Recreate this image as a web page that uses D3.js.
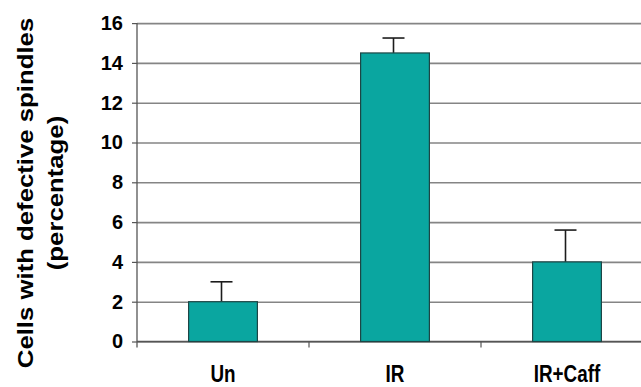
<!DOCTYPE html>
<html>
<head>
<meta charset="utf-8">
<script src="https://cdn.jsdelivr.net/npm/d3@7/dist/d3.min.js"></script>
<style>
  html, body { margin: 0; padding: 0; background: #fff; }
  svg { display: block; }
  text { font-family: "Liberation Sans", Arial, sans-serif; font-weight: bold; fill: #000; }
</style>
</head>
<body>
<svg id="chart" width="641" height="387"></svg>
<script>
// Data
const categories = ["Un", "IR", "IR+Caff"];
const values = [2.0, 14.5, 4.0];
const errors = [1.0, 0.75, 1.6];
const yTicks = [0, 2, 4, 6, 8, 10, 12, 14, 16];
const yTitleLines = ["Cells with defective spindles", "(percentage)"];

const W = 641, H = 387;
const margin = { left: 137, top: 23.1, bottom: 45.5 };
const plotRight = 653;          // plot area runs past the window edge
const y0 = H - margin.bottom;   // baseline

const svg = d3.select("#chart");

const x = d3.scaleBand()
  .domain(categories)
  .range([margin.left, plotRight])
  .paddingInner(0.6)
  .paddingOuter(0.3);

const y = d3.scaleLinear()
  .domain([0, 16])
  .range([y0, margin.top]);

// Horizontal gridlines
const grid = svg.append("g")
  .attr("transform", `translate(${margin.left},0)`)
  .call(d3.axisLeft(y).tickValues(yTicks).tickSize(-(plotRight - margin.left)).tickFormat(""));
grid.select(".domain").remove();
grid.selectAll(".tick line").attr("stroke", "#858585").attr("stroke-width", 1.6);

// Y axis with outward ticks and labels
const yAxis = svg.append("g")
  .attr("transform", `translate(${margin.left},0)`)
  .call(d3.axisLeft(y).tickValues(yTicks).tickSize(5).tickPadding(9).tickSizeOuter(0));
yAxis.select(".domain").remove();
yAxis.selectAll(".tick line").attr("stroke", "#555").attr("stroke-width", 1.2);
yAxis.selectAll(".tick text")
  .style("font-size", "20px")
  .attr("fill", "#000");

// Y axis line (extends a little below the baseline)
svg.append("line")
  .attr("x1", margin.left).attr("x2", margin.left)
  .attr("y1", y(16)).attr("y2", y0 + 6)
  .attr("stroke", "#555").attr("stroke-width", 1.3);

// Baseline
svg.append("line")
  .attr("x1", margin.left).attr("x2", plotRight)
  .attr("y1", y0).attr("y2", y0)
  .attr("stroke", "#555").attr("stroke-width", 1.6);

// Category separator ticks below the baseline
const step = x.step();
const separators = categories.slice(0, -1).map(c => x(c) + x.bandwidth() + step * x.paddingInner() / 2);
svg.selectAll("line.sep")
  .data(separators)
  .join("line")
  .attr("class", "sep")
  .attr("x1", d => d).attr("x2", d => d)
  .attr("y1", y0).attr("y2", y0 + 6)
  .attr("stroke", "#555").attr("stroke-width", 1.2);

// Error bars (upper whisker only)
const capW = 22;
const eb = svg.append("g");
categories.forEach((c, i) => {
  const cx = x(c) + x.bandwidth() / 2 - 1.5;
  eb.append("line")
    .attr("x1", cx).attr("x2", cx)
    .attr("y1", y(values[i])).attr("y2", y(values[i] + errors[i]))
    .attr("stroke", "#1c1c1c").attr("stroke-width", 1.6);
  eb.append("line")
    .attr("x1", cx - capW / 2).attr("x2", cx + capW / 2)
    .attr("y1", y(values[i] + errors[i])).attr("y2", y(values[i] + errors[i]))
    .attr("stroke", "#1c1c1c").attr("stroke-width", 1.6);
});

// Bars
svg.selectAll("rect.bar")
  .data(categories)
  .join("rect")
  .attr("class", "bar")
  .attr("x", d => x(d))
  .attr("width", x.bandwidth())
  .attr("y", (d, i) => y(values[i]))
  .attr("height", (d, i) => y0 - y(values[i]))
  .attr("fill", "#0aa6a0")
  .attr("stroke", "#1d4545")
  .attr("stroke-width", 1.2);

// Category labels
svg.selectAll("text.cat")
  .data(categories)
  .join("text")
  .attr("class", "cat")
  .attr("text-anchor", "middle")
  .attr("transform", d => `translate(${x(d) + x.bandwidth() / 2},${y0 + 40}) scale(0.82,1)`)
  .style("font-size", "23px")
  .text(d => d);

// Y axis title, two rotated lines
const titleCy = 193;
const titleX = [33, 63];
yTitleLines.forEach((t, i) => {
  svg.append("text")
    .attr("text-anchor", "middle")
    .attr("transform", `translate(${titleX[i]},${titleCy}) rotate(-90) scale(1.17,1)`)
    .style("font-size", "22px")
    .text(t);
});
</script>
</body>
</html>
